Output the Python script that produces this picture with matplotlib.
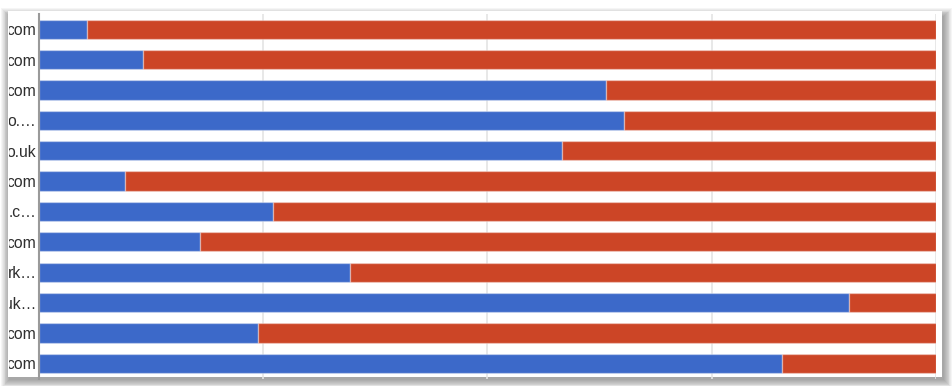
import matplotlib
matplotlib.use("Agg")
import matplotlib.pyplot as plt
from matplotlib.patches import Rectangle
from matplotlib.transforms import Bbox, TransformedBbox

labels = ["com", "com", "com", "o.…", "o.uk", "com", ".c…", "com", "rk…", "uk…", "com", "com"]
blue_vals = [5.4, 11.6, 63.2, 65.2, 58.3, 9.6, 26.1, 18.0, 34.7, 90.3, 24.5, 82.8]
red_vals = [94.6, 88.4, 36.8, 34.8, 41.7, 90.4, 73.9, 82.0, 65.3, 9.7, 75.5, 17.2]

W, H = 952, 386
fig = plt.figure(figsize=(W / 100, H / 100), dpi=100)
fig.patch.set_facecolor("white")

def px_rect(x0, y0, x1, y1, **kw):
    # pixel coords with origin at top-left
    return Rectangle((x0 / W, 1 - y1 / H), (x1 - x0) / W, (y1 - y0) / H,
                     transform=fig.transFigure, **kw)

# drop shadow of the card
for k in range(10):
    g = k * 0.9
    fig.patches.append(px_rect(8 - g + 1, 13 - g + 3, 942 + g + 2, 377 + g + 3,
                               facecolor="black", edgecolor="none", alpha=0.04, zorder=0))
fig.patches.append(px_rect(8, 11, 942, 377, facecolor="white", edgecolor="none", zorder=1))

ax = fig.add_axes([38.5 / W, 1 - 378.5 / H, (936 - 38.5) / W, (378.5 - 14) / H])
ax.set_zorder(2)
ax.patch.set_alpha(0)

y = list(range(len(labels)))
ax.barh(y, blue_vals, height=0.63, color="#3c69c9",
        edgecolor=(1, 1, 1, 0.35), linewidth=1.0, zorder=3)
ax.barh(y, red_vals, left=blue_vals, height=0.63, color="#cc4526",
        edgecolor=(1, 1, 1, 0.35), linewidth=1.0, zorder=3)

ax.set_xlim(0, 100)
ax.set_ylim(len(labels) - 0.5, -0.5)
ax.set_xticks([25, 50, 75, 100])
ax.tick_params(axis="x", length=0, labelbottom=False)
ax.grid(axis="x", color="#e4e4e4", linewidth=1.2, zorder=0)
ax.set_axisbelow(True)

ax.set_yticks(y)
ax.set_yticklabels(labels, fontsize=11.3, color="#2e2e2e", family=["Liberation Sans", "DejaVu Sans"])
ax.tick_params(axis="y", length=0, pad=1.5)

clip = TransformedBbox(Bbox([[8.5 / W, 0], [1, 1]]), fig.transFigure)
for t in ax.get_yticklabels():
    t.set_clip_box(clip)
    t.set_clip_on(True)

for s in ["top", "right", "bottom"]:
    ax.spines[s].set_visible(False)
ax.spines["left"].set_color("#9a9a9a")
ax.spines["left"].set_linewidth(1.5)
ax.spines["left"].set_zorder(4)

fig.savefig("out.png", dpi=100, facecolor=fig.get_facecolor())
